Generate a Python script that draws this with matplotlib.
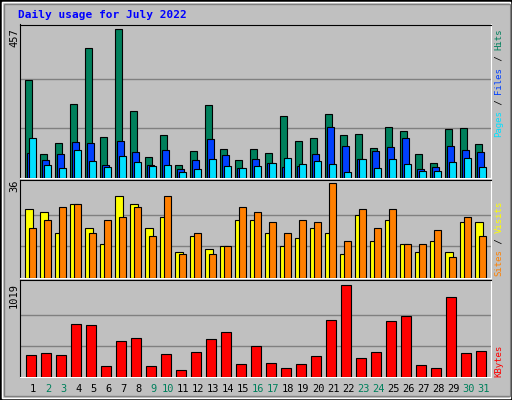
import matplotlib
matplotlib.use("Agg")
import matplotlib.pyplot as plt
from matplotlib.patches import Rectangle
import numpy as np

days = list(range(1, 32))
hits = [302,75,106,227,398,127,457,205,65,131,40,84,224,90,56,90,78,190,112,124,196,131,134,93,155,143,75,47,149,152,103]
files = [78,56,75,109,106,40,112,81,40,87,28,56,121,71,31,59,47,34,37,75,155,99,59,84,96,124,28,34,99,87,81]
pages = [124,40,31,87,53,34,68,50,37,40,19,28,59,37,31,37,47,62,44,53,44,19,59,31,59,44,22,22,50,62,34]
sites = [26,25,17,28,19,13,31,28,19,23,10,16,11,12,22,22,17,12,15,19,17,9,24,14,22,13,10,14,10,21,21]
visits = [19,22,27,28,17,22,23,27,16,31,9,17,9,12,27,25,21,17,22,21,36,14,26,19,26,13,13,18,8,23,16]
kbytes = [246,269,246,582,571,123,392,425,123,258,78,280,414,493,146,347,157,101,146,235,627,1019,213,280,616,672,134,101,885,269,291]
weekend = [2,3,9,10,16,17,23,24,30,31]

W, H = 512, 400
fig = plt.figure(figsize=(W/100, H/100), dpi=100)
fig.patch.set_facecolor("#C0C0C0")
BG = "#C0C0C0"
mono = "DejaVu Sans Mono"

fig.patches.append(Rectangle((0, 0), 1, 1, transform=fig.transFigure, fill=False, ec="black", lw=2))
fig.patches.append(Rectangle((2/W, 2/H), 1-4/W, 1-4/H, transform=fig.transFigure, fill=False, ec="white", lw=1))
fig.patches.append(Rectangle((4/W, 4/H), 1-6/W, 1-8/H, transform=fig.transFigure, fill=False, ec="#808080", lw=1))

fig.text(18/W, 1-15/H, "Daily usage for July 2022", color="#0000FF", fontsize=8, fontweight="bold",
         family=mono, va="center", ha="left")

def mkax(y0, y1):
    ax = fig.add_axes([20/W, 1-y1/H, (491-20)/W, (y1-y0)/H])
    ax.set_facecolor(BG)
    ax.set_xlim(0.113, 31.51)
    ax.set_xticks([]); ax.set_yticks([])
    for s in ("left", "top"):
        ax.spines[s].set_color("black")
    for s in ("right", "bottom"):
        ax.spines[s].set_color("white")
    return ax

d = np.array(days)
ek = dict(edgecolor="black", linewidth=0.8, align="edge", zorder=3)

ax1 = mkax(24.5, 178)
m1 = max(hits)
ax1.set_ylim(0, m1 * 1.03)
for f in (1/3, 2/3):
    ax1.axhline(m1 * f, color="#808080", lw=1, zorder=1)
ax1.bar(d - 0.53, hits, 0.47, color="#00805C", **ek)
ax1.bar(d - 0.40, files, 0.47, color="#0040FF", **ek)
ax1.bar(d - 0.27, pages, 0.47, color="#00E0FF", **ek)

ax2 = mkax(180, 278)
m2 = max(visits)
ax2.set_ylim(0, m2 * 1.03)
for f in (1/3, 2/3):
    ax2.axhline(m2 * f, color="#808080", lw=1, zorder=1)
ax2.bar(d - 0.53, sites, 0.53, color="#FFFF00", **ek)
ax2.bar(d - 0.27, visits, 0.47, color="#FF8000", **ek)

ax3 = mkax(280, 377)
m3 = max(kbytes)
ax3.set_ylim(0, m3 * 1.05)
for f in (1/3, 2/3):
    ax3.axhline(m3 * f, color="#808080", lw=1, zorder=1)
ax3.bar(d - 0.47, kbytes, 0.67, color="#FF0000", **ek)

for day in days:
    x = 33.3 + (day - 1) * 15
    fig.text(x/W, 1-389/H, str(day), ha="center", va="center", fontsize=7.5, family=mono,
             color="#00805C" if day in weekend else "black")

for txt, ytop in (("457", 28), ("36", 180), ("1019", 283)):
    fig.text(14/W, 1-ytop/H, txt, rotation=90, ha="center", va="top", fontsize=7.5, family=mono, color="black")

FS = 6.5
CW = 0.602 * FS * 100 / 72
def legend(pieces, ybottom):
    y = ybottom
    for txt, col in pieces:
        fig.text(499/W, 1-y/H, txt, rotation=90, ha="center", va="bottom", fontsize=FS,
                 family=mono, color=col)
        y -= CW * len(txt)

legend([("Pages", "#00E0FF"), (" / ", "black"), ("Files", "#0040FF"), (" / ", "black"), ("Hits", "#00805C")], 137)
legend([("Sites", "#FF8000"), (" / ", "black"), ("Visits", "#FFFF00")], 276)
legend([("KBytes", "#FF0000")], 377)

fig.savefig("out.png", dpi=100, facecolor=fig.get_facecolor())
